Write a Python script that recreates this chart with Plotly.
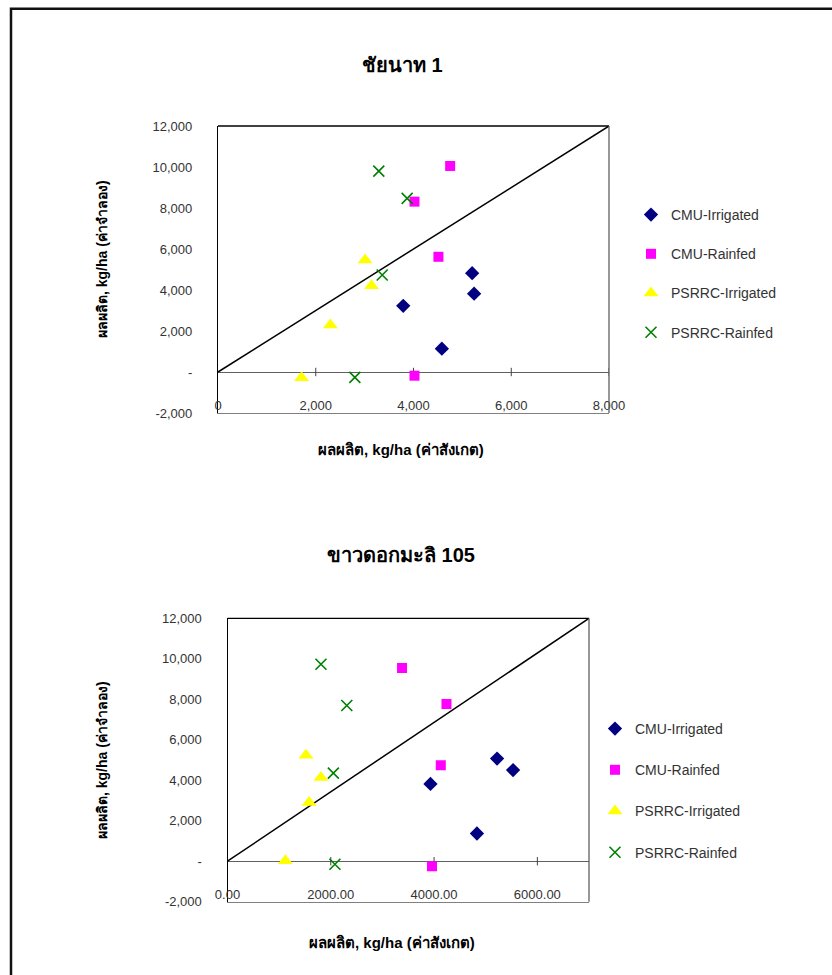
import plotly.graph_objects as go

# ---------------- data ----------------
series_names = ["CMU-Irrigated", "CMU-Rainfed", "PSRRC-Irrigated", "PSRRC-Rainfed"]

# Chart 1: ชัยนาท 1  (observed x, simulated y)
c1_cmu_irr_x = [3790, 5200, 5240, 4580]
c1_cmu_irr_y = [3230, 4820, 3820, 1140]
c1_cmu_rf_x = [4750, 4020, 4510, 4020]
c1_cmu_rf_y = [10050, 8310, 5620, -180]
c1_ps_irr_x = [3010, 3140, 2300, 1710]
c1_ps_irr_y = [5460, 4210, 2290, -280]
c1_ps_rf_x = [3290, 3870, 3360, 2800]
c1_ps_rf_y = [9800, 8470, 4730, -260]
c1_line_x = [0, 8000]
c1_line_y = [0, 12000]

# Chart 2: ขาวดอกมะลิ 105
c2_cmu_irr_x = [3930, 5220, 5530, 4830]
c2_cmu_irr_y = [3820, 5070, 4500, 1370]
c2_cmu_rf_x = [3380, 4240, 4130, 3960]
c2_cmu_rf_y = [9550, 7770, 4740, -250]
c2_ps_irr_x = [1520, 1810, 1580, 1120]
c2_ps_irr_y = [5240, 4140, 2900, 20]
c2_ps_rf_x = [1810, 2310, 2050, 2080]
c2_ps_rf_y = [9730, 7690, 4350, -150]
c2_line_x = [0, 7000]
c2_line_y = [0, 12000]

y_tickvals = [-2000, 0, 2000, 4000, 6000, 8000, 10000, 12000]
y_ticktext = ["-2,000", "-", "2,000", "4,000", "6,000", "8,000", "10,000", "12,000"]
x1_tickvals = [0, 2000, 4000, 6000, 8000]
x1_ticktext = ["0", "2,000", "4,000", "6,000", "8,000"]
x2_tickvals = [0, 2000, 4000, 6000]
x2_ticktext = ["0.00", "2000.00", "4000.00", "6000.00"]

title1 = "ชัยนาท 1"
title2 = "ขาวดอกมะลิ 105"
xtitle = "ผลผลิต, kg/ha (ค่าสังเกต)"
ytitle = "ผลผลิต, kg/ha (ค่าจำลอง)"

# ---------------- styles ----------------
FONT = "Liberation Sans, Arial, Noto Sans, sans-serif"
styles = [
    dict(symbol="diamond", color="#000080", size=11),
    dict(symbol="square", color="#FF00FF", size=10),
    dict(symbol="triangle-up", color="#FFFF00", size=13),
    dict(symbol="x-thin-open", color="#008000", size=11),
]

fig = go.Figure()

def add_chart(xs, ys, line_x, line_y, xref, yref, legend, xticks):
    fig.add_trace(go.Scatter(x=line_x, y=line_y, mode="lines",
                             line=dict(color="black", width=1.5),
                             xaxis=xref, yaxis=yref, showlegend=False,
                             hoverinfo="skip"))
    # small tick marks on the x axis line at y=0
    fig.add_trace(go.Scatter(x=xticks[1:], y=[0] * (len(xticks) - 1), mode="markers",
                             marker=dict(symbol="line-ns", size=6, color="#404040",
                                         line=dict(color="#404040", width=1)),
                             xaxis=xref, yaxis=yref, showlegend=False,
                             hoverinfo="skip"))
    for i, (x, y) in enumerate(zip(xs, ys)):
        st = styles[i]
        if st["symbol"] == "x-thin-open":
            marker = dict(symbol=st["symbol"], size=st["size"], color=st["color"],
                          line=dict(color=st["color"], width=1.6))
        else:
            marker = dict(symbol=st["symbol"], size=st["size"], color=st["color"],
                          line=dict(width=0))
        fig.add_trace(go.Scatter(x=x, y=y, mode="markers", name=series_names[i],
                                 marker=marker, xaxis=xref, yaxis=yref,
                                 legend=legend, legendgroup=legend + str(i)))

add_chart([c1_cmu_irr_x, c1_cmu_rf_x, c1_ps_irr_x, c1_ps_rf_x],
          [c1_cmu_irr_y, c1_cmu_rf_y, c1_ps_irr_y, c1_ps_rf_y],
          c1_line_x, c1_line_y, "x", "y", "legend", x1_tickvals)
add_chart([c2_cmu_irr_x, c2_cmu_rf_x, c2_ps_irr_x, c2_ps_rf_x],
          [c2_cmu_irr_y, c2_cmu_rf_y, c2_ps_irr_y, c2_ps_rf_y],
          c2_line_x, c2_line_y, "x2", "y2", "legend2", x2_tickvals)

W, H = 832, 975
def px(x):
    return x / W
def py(y):
    return 1 - y / H

tickfont = dict(family=FONT, size=13, color="#333333")

def xaxis(domain, rng, tv, tt, anchor):
    return dict(domain=domain, range=rng, anchor=anchor, tickvals=tv, ticktext=tt,
                showgrid=False, zeroline=False, showline=True, linecolor="#808080",
                linewidth=1, mirror=False, ticks="", ticklabelposition="inside",
                ticklabeloverflow="allow", tickfont=tickfont, fixedrange=True,
                automargin=False)

def yaxis(domain, anchor):
    return dict(domain=domain, range=[-2000, 12000], anchor=anchor,
                tickvals=y_tickvals, ticktext=y_ticktext, showgrid=False,
                zeroline=True, zerolinecolor="#606060", zerolinewidth=1,
                showline=True, linecolor="black", linewidth=1.3,
                ticks="outside", ticklen=22, tickcolor="rgba(0,0,0,0)",
                tickfont=tickfont, fixedrange=True, automargin=False)

x1d = [px(218), px(609)]
y1d = [py(413), py(126)]
x2d = [px(227.5), px(589)]
y2d = [py(901.7), py(618.3)]

legfont = dict(family=FONT, size=14, color="#333333")

fig.update_layout(
    width=W, height=H, autosize=False,
    margin=dict(l=0, r=0, t=0, b=0, pad=0, autoexpand=False),
    paper_bgcolor="white", plot_bgcolor="white",
    font=dict(family=FONT),
    xaxis=xaxis(x1d, [0, 8000], x1_tickvals, x1_ticktext, "y"),
    yaxis=yaxis(y1d, "x"),
    xaxis2=xaxis(x2d, [0, 7000], x2_tickvals, x2_ticktext, "y2"),
    yaxis2=yaxis(y2d, "x2"),
    legend=dict(x=px(631), y=py(199), xanchor="left", yanchor="top",
                font=legfont, tracegroupgap=18, bgcolor="rgba(0,0,0,0)"),
    legend2=dict(x=px(595), y=py(713), xanchor="left", yanchor="top",
                 font=legfont, tracegroupgap=20, bgcolor="rgba(0,0,0,0)"),
    showlegend=True,
)

shapes = []
# outer frame
shapes.append(dict(type="rect", xref="paper", yref="paper",
                   x0=px(11), x1=1.02, y0=-0.02, y1=py(8.7),
                   line=dict(color="#111111", width=2.5)))
for xr, yr in (("x", "y"), ("x2", "y2")):
    # top border black, right border gray
    shapes.append(dict(type="line", xref=xr + " domain", yref=yr + " domain",
                       x0=0, x1=1, y0=1, y1=1, line=dict(color="black", width=1.3)))
    shapes.append(dict(type="line", xref=xr + " domain", yref=yr + " domain",
                       x0=1, x1=1, y0=0, y1=1, line=dict(color="#606060", width=1.3)))
fig.update_layout(shapes=shapes)

def note(text, x, y, size, angle=0):
    return dict(text="<b>" + text + "</b>", x=px(x), y=py(y), xref="paper", yref="paper",
                xanchor="center", yanchor="middle", showarrow=False, textangle=angle,
                font=dict(family=FONT, size=size, color="black"))

ann = [
    note(title1, 402, 65, 20),
    note(title2, 401, 555, 20),
    note(xtitle, 401, 449, 15),
    note(xtitle, 392, 942, 15),
    note(ytitle, 102, 259, 14, -90),
    note(ytitle, 102, 760, 14, -90),
]
fig.update_layout(annotations=ann)

fig.write_html("out.html")
